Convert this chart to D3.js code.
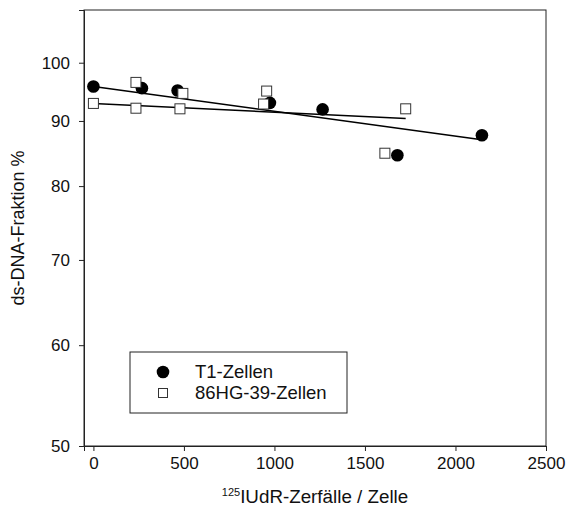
<!DOCTYPE html>
<html>
<head>
<meta charset="utf-8">
<script src="https://cdn.jsdelivr.net/npm/d3@7"></script>
<style>
  html, body { margin: 0; padding: 0; background: #fff; }
  svg text { font-family: "Liberation Sans", Arial, Helvetica, sans-serif; fill: #111; }
</style>
</head>
<body>
<svg id="chart" width="566" height="510"></svg>
<script>
// T1 cells: decays per cell vs. double-stranded DNA fraction (%)
const t1Decays = [0, 268, 465, 975, 1266, 1679, 2146];
const t1Fraction = [95.8, 95.5, 95.1, 93.0, 91.9, 84.6, 87.7];

// 86HG-39 cells
const hgDecays = [0, 235, 235, 478, 494, 940, 957, 1610, 1725];
const hgFraction = [92.9, 96.5, 92.1, 92.0, 94.6, 92.8, 95.0, 84.9, 92.0];

// Regression lines (start / end of each fit)
const t1FitDecays = [0, 2146];
const t1FitFraction = [95.8, 87.0];
const hgFitDecays = [0, 1725];
const hgFitFraction = [92.9, 90.4];

// Axis ticks
const xTicks = [0, 500, 1000, 1500, 2000, 2500];
const yTicks = [50, 60, 70, 80, 90, 100];

const legendLabels = ["T1-Zellen", "86HG-39-Zellen"];

const svg = d3.select("#chart");
const plot = { left: 84, right: 546, top: 10, bottom: 446 };

const x = d3.scaleLinear().domain([-52, 2500]).range([plot.left, plot.right]);
const y = d3.scaleLog().domain([50, 110]).range([plot.bottom, plot.top]);

const zip = (xs, ys) => xs.map((v, i) => ({ x: v, y: ys[i] }));

// Frame
svg.append("rect")
  .attr("x", plot.left).attr("y", plot.top)
  .attr("width", plot.right - plot.left).attr("height", plot.bottom - plot.top)
  .attr("fill", "none").attr("stroke", "#222").attr("stroke-width", 1);

// Axes
const xAxis = svg.append("g")
  .attr("transform", `translate(0,${plot.bottom})`)
  .call(d3.axisBottom(x).tickValues(xTicks).tickSize(5).tickPadding(6).tickFormat(d3.format("d")));
const yAxis = svg.append("g")
  .attr("transform", `translate(${plot.left},0)`)
  .call(d3.axisLeft(y).tickValues(yTicks).tickSize(5).tickPadding(9).tickFormat(d3.format("d")));

[xAxis, yAxis].forEach(g => {
  g.select(".domain").attr("stroke", "#222");
  g.selectAll(".tick line").attr("stroke", "#222");
  g.selectAll(".tick text").attr("font-size", 17).attr("font-family", "Liberation Sans, Arial, sans-serif").attr("fill", "#111");
});

// Axis titles
svg.append("text")
  .attr("transform", `translate(24,${(plot.top + plot.bottom) / 2}) rotate(-90)`)
  .attr("text-anchor", "middle")
  .attr("font-size", 18)
  .text("ds-DNA-Fraktion %");

const xt = svg.append("text")
  .attr("x", (plot.left + plot.right) / 2)
  .attr("y", 503)
  .attr("text-anchor", "middle")
  .attr("font-size", 18.8);
xt.append("tspan").attr("font-size", 11).attr("dy", -7).text("125");
xt.append("tspan").attr("dy", 7).text("IUdR-Zerfälle / Zelle");

// Regression lines
const line = d3.line().x(d => x(d.x)).y(d => y(d.y));
[zip(t1FitDecays, t1FitFraction), zip(hgFitDecays, hgFitFraction)].forEach(pts => {
  svg.append("path").datum(pts)
    .attr("d", line)
    .attr("fill", "none").attr("stroke", "#000").attr("stroke-width", 1.5);
});

// T1 markers (filled circles)
svg.append("g").selectAll("circle")
  .data(zip(t1Decays, t1Fraction))
  .join("circle")
  .attr("cx", d => x(d.x)).attr("cy", d => y(d.y))
  .attr("r", 6.3).attr("fill", "#000");

// 86HG-39 markers (open squares)
const sq = 10;
svg.append("g").selectAll("rect")
  .data(zip(hgDecays, hgFraction))
  .join("rect")
  .attr("x", d => x(d.x) - sq / 2).attr("y", d => y(d.y) - sq / 2)
  .attr("width", sq).attr("height", sq)
  .attr("fill", "#fff").attr("stroke", "#333").attr("stroke-width", 1);

// Legend
const lg = svg.append("g");
lg.append("rect")
  .attr("x", 130).attr("y", 352).attr("width", 217).attr("height", 61)
  .attr("fill", "#fff").attr("stroke", "#222").attr("stroke-width", 1);
lg.append("circle").attr("cx", 163).attr("cy", 372).attr("r", 6.3).attr("fill", "#000");
lg.append("rect").attr("x", 158.5).attr("y", 388.5).attr("width", 9).attr("height", 9)
  .attr("fill", "#fff").attr("stroke", "#333").attr("stroke-width", 1);
lg.selectAll("text.lbl")
  .data(legendLabels)
  .join("text")
  .attr("class", "lbl")
  .attr("x", 195)
  .attr("y", (d, i) => 372 + i * 21)
  .attr("dy", "0.35em")
  .attr("font-size", 18.5)
  .text(d => d);
</script>
</body>
</html>
